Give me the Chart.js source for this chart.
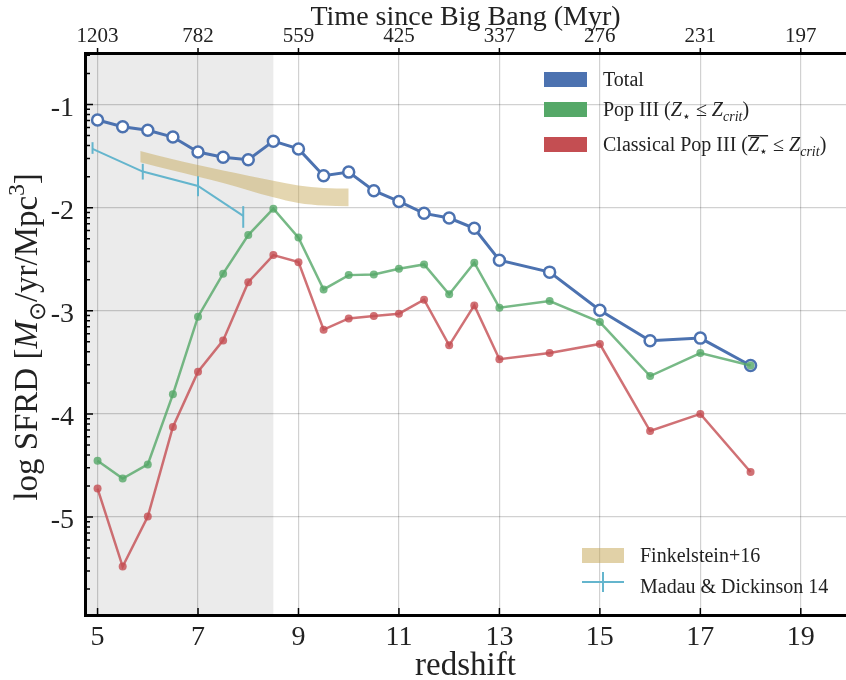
<!DOCTYPE html>
<html lang="en">
<head>
<meta charset="UTF-8">
<title>SFRD vs redshift</title>
<script src="https://cdn.jsdelivr.net/npm/chart.js@4.4.1/dist/chart.umd.min.js"></script>
<style>
  html, body { margin: 0; padding: 0; background: #fff; }
</style>
</head>
<body>
<canvas id="sfrd" width="846" height="680"></canvas>
<script>
// simulation outputs
const redshift = [5, 5.5, 6, 6.5, 7, 7.5, 8, 8.5, 9, 9.5, 10, 10.5, 11, 11.5, 12, 12.5, 13, 14, 15, 16, 17, 18];
const sfrdTotal = [-1.15, -1.215, -1.25, -1.315, -1.46, -1.51, -1.535, -1.355, -1.43, -1.69, -1.655, -1.835,
                   -1.94, -2.055, -2.10, -2.20, -2.51, -2.625, -2.995, -3.29, -3.265, -3.53];
const sfrdPop3 = [-4.455, -4.627, -4.49, -3.81, -3.057, -2.64, -2.266, -2.01, -2.29, -2.793, -2.654, -2.647,
                  -2.592, -2.55, -2.84, -2.534, -2.97, -2.906, -3.109, -3.633, -3.41, -3.53];
const sfrdClassical = [-4.724, -5.48, -4.995, -4.127, -3.59, -3.287, -2.722, -2.46, -2.528, -3.183, -3.074, -3.051,
                       -3.028, -2.893, -3.335, -2.948, -3.47, -3.41, -3.322, -4.166, -4.0, -4.563];

// observations
const mdZ = [4.9, 5.9, 7.0, 7.9];
const mdSfrd = [-1.43, -1.65, -1.79, -2.08];
const mdLo = [-1.478, -1.727, -1.889, -2.195];
const mdHi = [-1.365, -1.575, -1.695, -1.985];

const fkZ = [5.85, 6.5, 7, 7.5, 8, 8.5, 9, 9.5, 10];
const fkHi = [-1.45, -1.53, -1.585, -1.64, -1.69, -1.74, -1.785, -1.81, -1.815];
const fkLo = [-1.56, -1.64, -1.70, -1.76, -1.83, -1.90, -1.955, -1.98, -1.985];

// axes
const xTicks = [5, 7, 9, 11, 13, 15, 17, 19];
const timeLabels = ['1203', '782', '559', '425', '337', '276', '231', '197'];
const yTicks = [-1, -2, -3, -4, -5];
const shadeEnd = 8.5;

const serif = '"Liberation Serif", "Times New Roman", serif';
const blue = '#4c72b0', green = '#55a868', red = '#c44e52', cyan = '#64b5cd';

const pts = (xs, ys) => xs.map((x, i) => ({ x: x, y: ys[i] }));

// log minor ticks (k * 10^n)
const yMinor = [];
for (let n = -6; n <= -1; n++) {
  for (let k = 2; k <= 9; k++) yMinor.push(n + Math.log10(k));
}

const shadePlugin = {
  id: 'shade',
  beforeDraw(chart) {
    const { ctx, chartArea: a, scales } = chart;
    const xr = scales.x.getPixelForValue(shadeEnd);
    ctx.save();
    ctx.fillStyle = '#ebebeb';
    ctx.fillRect(a.left, a.top, xr - a.left, a.bottom - a.top);
    ctx.restore();
  }
};

const errPlugin = {
  id: 'errbars',
  afterDatasetsDraw(chart) {
    const { ctx, scales } = chart;
    ctx.save();
    ctx.strokeStyle = cyan;
    ctx.lineWidth = 2;
    mdZ.forEach((z, i) => {
      const px = scales.x.getPixelForValue(z);
      ctx.beginPath();
      ctx.moveTo(px, scales.y.getPixelForValue(mdLo[i]));
      ctx.lineTo(px, scales.y.getPixelForValue(mdHi[i]));
      ctx.stroke();
    });
    ctx.restore();
  }
};

const tickPlugin = {
  id: 'tickmarks',
  afterDraw(chart) {
    const { ctx, chartArea: a, scales } = chart;
    const ys = scales.y, xs = scales.x;
    ctx.save();
    ctx.strokeStyle = '#000';
    ctx.lineWidth = 1.5;
    ctx.beginPath();
    yTicks.forEach(v => {
      const py = ys.getPixelForValue(v);
      ctx.moveTo(a.left, py); ctx.lineTo(a.left + 8, py);
    });
    yMinor.forEach(v => {
      if (v < ys.min || v > ys.max) return;
      const py = ys.getPixelForValue(v);
      ctx.moveTo(a.left, py); ctx.lineTo(a.left + 5, py);
    });
    xTicks.forEach(v => {
      const px = xs.getPixelForValue(v);
      ctx.moveTo(px, a.bottom); ctx.lineTo(px, a.bottom - 7);
      ctx.moveTo(px, a.top); ctx.lineTo(px, a.top - 5);
    });
    ctx.stroke();
    ctx.restore();
  }
};

// draws text made of segments (italic / subscript / superscript / overline), returns width
function rich(ctx, x, y, segs, size, draw = true) {
  let cx = x;
  segs.forEach(s => {
    const small = s.sub || s.sup;
    const fs = small ? size * 0.7 : size;
    ctx.font = (s.it ? 'italic ' : '') + fs + 'px ' + serif;
    const dy = s.sub ? size * 0.25 : (s.sup ? -size * 0.4 : 0);
    const w = ctx.measureText(s.t).width;
    if (draw) {
      ctx.fillText(s.t, cx, y + dy);
      if (s.over) ctx.fillRect(cx, y - size * 0.8, w, 1.5);
    }
    cx += w;
  });
  return cx - x;
}

const legendPlugin = {
  id: 'legends',
  afterDraw(chart) {
    const { ctx, chartArea: a } = chart;
    ctx.save();
    ctx.textBaseline = 'alphabetic';
    ctx.textAlign = 'left';
    const fs = 20;
    const items = [
      { c: blue, y: 72, segs: [{ t: 'Total' }] },
      { c: green, y: 102, segs: [{ t: 'Pop III (' }, { t: 'Z', it: 1 }, { t: '\u22c6', sub: 1 }, { t: ' \u2264 ' },
                                 { t: 'Z', it: 1 }, { t: 'crit', it: 1, sub: 1 }, { t: ')' }] },
      { c: red, y: 137, segs: [{ t: 'Classical Pop III (' }, { t: 'Z', it: 1, over: 1 }, { t: '\u22c6', sub: 1, over: 1 },
                               { t: ' \u2264 ' }, { t: 'Z', it: 1 }, { t: 'crit', it: 1, sub: 1 }, { t: ')' }] }
    ];
    items.forEach(it => {
      ctx.fillStyle = it.c;
      ctx.fillRect(544, it.y, 43, 15);
      ctx.fillStyle = '#222';
      rich(ctx, 603, it.y + 14, it.segs, fs);
    });
    // observation legend
    ctx.fillStyle = 'rgba(196,164,80,0.5)';
    ctx.fillRect(582, 548, 42, 15);
    ctx.fillStyle = '#222';
    rich(ctx, 640, 562, [{ t: 'Finkelstein+16' }], fs);
    ctx.strokeStyle = cyan;
    ctx.lineWidth = 2;
    ctx.beginPath();
    ctx.moveTo(582, 582); ctx.lineTo(624, 582);
    ctx.moveTo(603, 572); ctx.lineTo(603, 592);
    ctx.stroke();
    rich(ctx, 640, 593, [{ t: 'Madau & Dickinson 14' }], fs);

    // y axis label
    const ylab = [{ t: 'log SFRD [' }, { t: 'M', it: 1 }, { t: '\u2299', sub: 1 }, { t: '/yr/Mpc' }, { t: '3', sup: 1 }, { t: ']' }];
    const ysz = 33;
    const w = rich(ctx, 0, 0, ylab, ysz, false);
    ctx.translate(37, (a.top + a.bottom) / 2 + 3);
    ctx.rotate(-Math.PI / 2);
    rich(ctx, -w / 2, 0, ylab, ysz);
    ctx.restore();
  }
};

new Chart(document.getElementById('sfrd'), {
  type: 'line',
  data: {
    datasets: [
      {
        label: 'Pop III', data: pts(redshift, sfrdPop3), order: 0,
        borderColor: 'rgba(85,168,104,0.8)', backgroundColor: 'rgba(85,168,104,0.8)',
        borderWidth: 2.5, pointRadius: 4, pointBorderWidth: 0, tension: 0
      },
      {
        label: 'Classical Pop III', data: pts(redshift, sfrdClassical), order: 1,
        borderColor: 'rgba(196,78,82,0.8)', backgroundColor: 'rgba(196,78,82,0.8)',
        borderWidth: 2.5, pointRadius: 4, pointBorderWidth: 0, tension: 0
      },
      {
        label: 'Total', data: pts(redshift, sfrdTotal), order: 2,
        borderColor: blue, backgroundColor: '#fff', pointBorderColor: blue,
        borderWidth: 3, pointRadius: 5.5, pointBorderWidth: 2.5, tension: 0
      },
      {
        label: 'Madau & Dickinson 14', data: pts(mdZ, mdSfrd), order: 3,
        borderColor: cyan, borderWidth: 2, pointRadius: 0, tension: 0
      },
      {
        label: 'Finkelstein+16', data: pts(fkZ, fkHi), order: 4,
        borderWidth: 0, pointRadius: 0, fill: '+1', backgroundColor: 'rgba(196,164,80,0.45)',
        cubicInterpolationMode: 'monotone'
      },
      {
        label: 'Finkelstein lo', data: pts(fkZ, fkLo), order: 5,
        borderWidth: 0, pointRadius: 0, fill: false, cubicInterpolationMode: 'monotone'
      }
    ]
  },
  options: {
    responsive: false,
    animation: false,
    layout: { padding: 0, autoPadding: false },
    plugins: { legend: { display: false }, tooltip: { enabled: false } },
    scales: {
      x: {
        type: 'linear', position: 'bottom', min: 4.75, max: 19.9,
        afterBuildTicks: s => { s.ticks = xTicks.map(v => ({ value: v })); },
        afterFit: s => { s.height = 65; },
        ticks: { font: { family: serif, size: 28 }, color: '#222', padding: 6, maxRotation: 0 },
        grid: { color: 'rgba(0,0,0,0.18)', lineWidth: 1.2, drawTicks: false },
        border: { color: '#000', width: 3 },
        title: { display: true, text: 'redshift', font: { family: serif, size: 33, lineHeight: 0.85 }, color: '#222', padding: { top: 0, bottom: 0 } }
      },
      xTop: {
        type: 'linear', position: 'top', min: 4.75, max: 19.9,
        afterBuildTicks: s => { s.ticks = xTicks.map(v => ({ value: v })); },
        afterFit: s => { s.height = 53; },
        ticks: {
          font: { family: serif, size: 21 }, color: '#222', padding: 4, maxRotation: 0,
          callback: v => timeLabels[xTicks.indexOf(v)]
        },
        grid: { drawOnChartArea: false, drawTicks: false },
        border: { color: '#000', width: 3 },
        title: { display: true, text: 'Time since Big Bang (Myr)', font: { family: serif, size: 28 }, color: '#222', padding: { top: 1, bottom: 0 } }
      },
      y: {
        type: 'linear', position: 'left', min: -5.95, max: -0.5,
        afterBuildTicks: s => { s.ticks = yTicks.map(v => ({ value: v })); },
        afterFit: s => { s.width = 85; },
        ticks: { font: { family: serif, size: 28 }, color: '#222', padding: 11, labelOffset: 4, callback: v => String(v) },
        grid: { color: 'rgba(0,0,0,0.18)', lineWidth: 1.2, drawTicks: false },
        border: { color: '#000', width: 3 },
        title: { display: false }
      }
    }
  },
  plugins: [shadePlugin, errPlugin, tickPlugin, legendPlugin]
});
</script>
</body>
</html>
